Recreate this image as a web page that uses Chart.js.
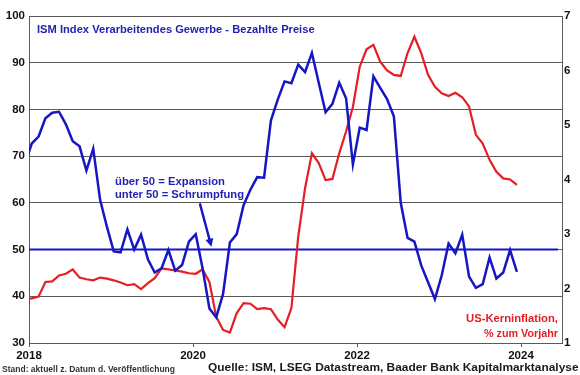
<!DOCTYPE html>
<html>
<head>
<meta charset="utf-8">
<script src="https://cdn.jsdelivr.net/npm/chart.js@4.4.1/dist/chart.umd.min.js"></script>
<style>
  html, body { margin: 0; padding: 0; background: #ffffff; }
  #wrap { width: 580px; height: 375px; }
</style>
</head>
<body>
<div id="wrap"><canvas id="c" width="580" height="375"></canvas></div>
<script>
// ---------- DATA (monthly, Dec 2017 .. Dec 2023) ----------
const firstMonth = { year: 2017, month: 12 };
const ismPricesPaid = [
  68.2,
  72.7, 74.2, 78.1, 79.3, 79.5, 76.8, 73.2, 72.1, 66.9, 71.6, 60.7, 54.9,
  49.6, 49.4, 54.3, 50.0, 53.2, 47.9, 45.1, 46.0, 49.9, 45.5, 46.7, 51.7,
  53.3, 46.0, 37.4, 35.5, 40.5, 51.5, 53.3, 59.5, 62.8, 65.5, 65.4, 77.6,
  82.1, 86.0, 85.6, 89.6, 88.0, 92.1, 85.7, 79.4, 81.2, 85.7, 82.4, 68.2,
  76.1, 75.6, 87.1, 84.6, 82.2, 78.5, 60.0, 52.5, 51.7, 46.6, 43.0, 39.4,
  44.5, 51.3, 49.2, 53.2, 44.2, 41.8, 42.6, 48.3, 43.8, 45.1, 49.9, 45.2
];
const usCoreInflation = [
  1.80,
  1.82, 1.85, 2.12, 2.13, 2.24, 2.27, 2.35, 2.20, 2.17, 2.15, 2.20, 2.18,
  2.15, 2.11, 2.06, 2.08, 1.99, 2.10, 2.19, 2.37, 2.35, 2.33, 2.31, 2.28,
  2.27, 2.35, 2.12, 1.48, 1.24, 1.19, 1.55, 1.73, 1.72, 1.62, 1.64, 1.62,
  1.43, 1.29, 1.64, 2.95, 3.84, 4.48, 4.30, 3.99, 4.01, 4.48, 4.88, 5.33,
  6.07, 6.39, 6.47, 6.16, 6.00, 5.92, 5.90, 6.32, 6.62, 6.32, 5.92, 5.70,
  5.58, 5.53, 5.59, 5.51, 5.34, 4.82, 4.66, 4.36, 4.14, 4.02, 4.00, 3.90
];
const thresholdValue = 50;
const thresholdRangeMonths = [0, 77.4];
const xTickYears = [2018, 2020, 2022, 2024];
const leftTicks = [30, 40, 50, 60, 70, 80, 90, 100];
const rightTicks = [1, 2, 3, 4, 5, 6, 7];

// ---------- helpers ----------
const BASE_YEAR = 2018;
const POINT_OFFSET = 0.4; // plotted slightly after month start
function monthIndex(k) { // months since Jan 2018 for array index k
  return (firstMonth.year - BASE_YEAR) * 12 + (firstMonth.month - 1) + k;
}
const ismPoints = ismPricesPaid.map((v, k) => ({ x: monthIndex(k) + POINT_OFFSET, y: v }));
const corePoints = usCoreInflation.map((v, k) => ({ x: monthIndex(k) + POINT_OFFSET, y: v }));
const thresholdPoints = thresholdRangeMonths.map(m => ({ x: m, y: thresholdValue }));
const yearTickPos = xTickYears.map(y => (y - BASE_YEAR) * 12);

const BLUE = '#1616C4';
const RED = '#E41E24';
const TEXTBLUE = '#2222B4';
const AXIS = '#5a5a5a';
const FONT = "'Liberation Sans', Arial, sans-serif";

function drawFitted(ctx, text, x, capCenterY, align, fontSize, targetWidth, color) {
  ctx.save();
  ctx.font = 'bold ' + fontSize + 'px ' + FONT;
  const w = ctx.measureText(text).width;
  const sx = targetWidth / w;
  ctx.translate(x, capCenterY + fontSize * 0.716 / 2);
  ctx.scale(sx, 1);
  ctx.fillStyle = color;
  ctx.textAlign = align;
  ctx.textBaseline = 'alphabetic';
  ctx.fillText(text, 0, 0);
  ctx.restore();
}

const overlay = {
  id: 'overlay',
  afterDraw(chart) {
    const ctx = chart.ctx;
    const xs = chart.scales.x, ys = chart.scales.y;
    // title
    drawFitted(ctx, 'ISM Index Verarbeitendes Gewerbe - Bezahlte Preise', 37, 29.2, 'left', 11.5, 277.6, TEXTBLUE);
    // annotation
    drawFitted(ctx, 'über 50 = Expansion', 115, 180.7, 'left', 11.2, 110, TEXTBLUE);
    drawFitted(ctx, 'unter 50 = Schrumpfung', 115, 193.6, 'left', 11.2, 129, TEXTBLUE);
    // arrow
    const x0 = xs.getPixelForValue(25.0), y0 = ys.getPixelForValue(59.9);
    const x1 = xs.getPixelForValue(26.7), y1 = ys.getPixelForValue(50.6);
    const ang = Math.atan2(y1 - y0, x1 - x0);
    const hl = 8, hw = 4;
    ctx.save();
    ctx.strokeStyle = BLUE; ctx.fillStyle = BLUE; ctx.lineWidth = 2.4;
    ctx.beginPath();
    ctx.moveTo(x0, y0);
    ctx.lineTo(x1 - Math.cos(ang) * hl * 0.8, y1 - Math.sin(ang) * hl * 0.8);
    ctx.stroke();
    ctx.beginPath();
    ctx.moveTo(x1, y1);
    ctx.lineTo(x1 - Math.cos(ang) * hl - Math.sin(ang) * hw, y1 - Math.sin(ang) * hl + Math.cos(ang) * hw);
    ctx.lineTo(x1 - Math.cos(ang) * hl + Math.sin(ang) * hw, y1 - Math.sin(ang) * hl - Math.cos(ang) * hw);
    ctx.closePath();
    ctx.fill();
    ctx.restore();
    // red label
    drawFitted(ctx, 'US-Kerninflation,', 558, 318.3, 'right', 11.5, 92, RED);
    drawFitted(ctx, '% zum Vorjahr', 558, 332.5, 'right', 11.5, 74, RED);
    // footer
    drawFitted(ctx, 'Stand: aktuell z. Datum d. Veröffentlichung', 2, 369, 'left', 8.5, 173, '#333333');
    drawFitted(ctx, 'Quelle: ISM, LSEG Datastream, Baader Bank Kapitalmarktanalyse', 208, 367.7, 'left', 10.5, 370.5, '#1a1a1a');
  }
};

const tickFont = { family: FONT, size: 11.5, weight: 'bold' };

new Chart(document.getElementById('c'), {
  type: 'line',
  data: {
    datasets: [
      { label: 'ISM Bezahlte Preise', data: ismPoints, yAxisID: 'y', borderColor: BLUE, borderWidth: 2.5, pointRadius: 0, tension: 0, order: 1 },
      { label: 'US-Kerninflation', data: corePoints, yAxisID: 'y2', borderColor: RED, borderWidth: 2.2, pointRadius: 0, tension: 0, order: 2 },
      { label: '50', data: thresholdPoints, yAxisID: 'y', borderColor: BLUE, borderWidth: 2, pointRadius: 0, order: 3 }
    ]
  },
  options: {
    responsive: false,
    animation: false,
    events: [],
    layout: { padding: { top: 16, left: 0, right: 0, bottom: 0 } },
    plugins: { legend: { display: false }, tooltip: { enabled: false } },
    scales: {
      x: {
        type: 'linear', min: 0, max: 78,
        afterBuildTicks: s => { s.ticks = yearTickPos.map(v => ({ value: v })); },
        ticks: {
          autoSkip: false, maxRotation: 0, padding: 2, color: '#111',
          font: tickFont,
          callback: v => { const i = yearTickPos.indexOf(v); return i >= 0 ? String(xTickYears[i]) : ''; }
        },
        grid: { drawOnChartArea: false, drawTicks: true, tickLength: 4, color: AXIS },
        border: { color: AXIS, width: 1 },
        afterFit: s => { s.height = 32; }
      },
      y: {
        position: 'left', min: 30, max: 100,
        afterBuildTicks: s => { s.ticks = leftTicks.map(v => ({ value: v })); },
        ticks: { padding: 4, color: '#111', font: tickFont },
        grid: { color: AXIS, lineWidth: 1, drawTicks: false },
        border: { color: AXIS, width: 1 },
        afterFit: s => { s.width = 29; }
      },
      y2: {
        position: 'right', min: 1, max: 7,
        afterBuildTicks: s => { s.ticks = rightTicks.map(v => ({ value: v })); },
        ticks: { padding: 2, color: '#111', font: tickFont },
        grid: { drawOnChartArea: false, drawTicks: false, color: AXIS },
        border: { display: true, color: AXIS, width: 1 },
        afterFit: s => { s.width = 18; }
      }
    }
  },
  plugins: [overlay]
});
</script>
</body>
</html>
